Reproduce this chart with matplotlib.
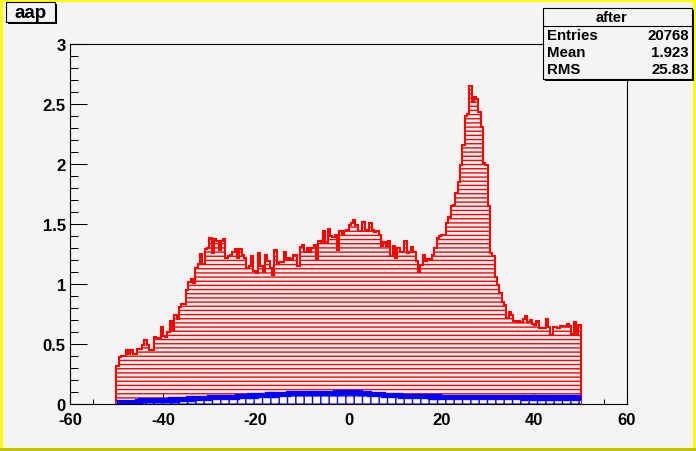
import numpy as np
import matplotlib
matplotlib.use('Agg')
import matplotlib.pyplot as plt
from matplotlib.patches import Rectangle

# histogram binning: 200 bins between -50 and 50
x_min = -50
x_max = 50
n_bins = 200

# red histogram ("after"), bin contents
after_counts = [
    0.32, 0.39, 0.40, 0.40, 0.45, 0.42, 0.45, 0.42, 0.42, 0.46,
    0.46, 0.49, 0.53, 0.49, 0.45, 0.45, 0.56, 0.55, 0.55, 0.64,
    0.57, 0.56, 0.60, 0.69, 0.62, 0.74, 0.71, 0.81, 0.83, 0.83,
    0.95, 1.02, 1.04, 1.01, 1.13, 1.17, 1.25, 1.17, 1.29, 1.30,
    1.38, 1.26, 1.375, 1.36, 1.28, 1.36, 1.375, 1.22, 1.23, 1.24,
    1.27, 1.29, 1.22, 1.29, 1.24, 1.22, 1.13, 1.15, 1.23, 1.11,
    1.09, 1.26, 1.15, 1.10, 1.24, 1.19, 1.13, 1.075, 1.28, 1.17,
    1.18, 1.18, 1.27, 1.20, 1.22, 1.21, 1.24, 1.24, 1.15, 1.31,
    1.325, 1.27, 1.30, 1.27, 1.30, 1.325, 1.21, 1.36, 1.35, 1.44,
    1.35, 1.46, 1.40, 1.39, 1.41, 1.28, 1.44, 1.41, 1.44, 1.45,
    1.49, 1.51, 1.53, 1.49, 1.44, 1.44, 1.52, 1.44, 1.45, 1.51,
    1.45, 1.43, 1.44, 1.41, 1.32, 1.35, 1.32, 1.36, 1.23, 1.32,
    1.22, 1.30, 1.27, 1.27, 1.36, 1.26, 1.265, 1.31, 1.265, 1.19,
    1.10, 1.16, 1.24, 1.19, 1.21, 1.20, 1.24, 1.30, 1.38, 1.40,
    1.41, 1.41, 1.51, 1.56, 1.65, 1.66, 1.76, 1.85, 1.99, 2.16,
    2.40, 2.42, 2.65, 2.52, 2.56, 2.54, 2.43, 2.31, 2.01, 1.99,
    1.65, 1.26, 1.23, 1.06, 0.99, 0.925, 0.85, 0.825, 0.72, 0.77,
    0.74, 0.69, 0.68, 0.69, 0.68, 0.71, 0.73, 0.68, 0.70, 0.67,
    0.66, 0.69, 0.63, 0.63, 0.63, 0.71, 0.64, 0.575, 0.64, 0.645,
    0.63, 0.65, 0.65, 0.65, 0.67, 0.65, 0.58, 0.68, 0.585, 0.66,
]

# blue histogram, small contents along the bottom
blue_counts = [
    0.02, 0.02, 0.02, 0.02, 0.02, 0.02, 0.02, 0.02, 0.02, 0.025,
    0.03, 0.03, 0.03, 0.03, 0.03, 0.032, 0.03, 0.032, 0.03, 0.035,
    0.035, 0.035, 0.035, 0.038, 0.035, 0.035, 0.04, 0.038, 0.04, 0.04,
    0.045, 0.048, 0.045, 0.048, 0.05, 0.048, 0.05, 0.048, 0.05, 0.05,
    0.055, 0.055, 0.058, 0.055, 0.058, 0.06, 0.058, 0.06, 0.058, 0.06,
    0.06, 0.062, 0.065, 0.068, 0.07, 0.068, 0.07, 0.072, 0.07, 0.07,
    0.072, 0.075, 0.078, 0.075, 0.078, 0.08, 0.078, 0.08, 0.078, 0.08,
    0.08, 0.082, 0.08, 0.085, 0.088, 0.09, 0.088, 0.09, 0.09, 0.088,
    0.09, 0.092, 0.09, 0.09, 0.092, 0.09, 0.092, 0.095, 0.092, 0.095,
    0.095, 0.092, 0.095, 0.095, 0.098, 0.095, 0.098, 0.10, 0.098, 0.10,
    0.10, 0.102, 0.10, 0.10, 0.098, 0.095, 0.092, 0.09, 0.088, 0.085,
    0.085, 0.082, 0.082, 0.08, 0.08, 0.078, 0.078, 0.075, 0.075, 0.075,
    0.072, 0.072, 0.07, 0.07, 0.068, 0.07, 0.068, 0.068, 0.065, 0.068,
    0.065, 0.065, 0.068, 0.065, 0.065, 0.062, 0.065, 0.062, 0.065, 0.062,
    0.062, 0.062, 0.06, 0.062, 0.06, 0.062, 0.06, 0.06, 0.062, 0.06,
    0.06, 0.058, 0.06, 0.06, 0.058, 0.06, 0.058, 0.058, 0.06, 0.058,
    0.058, 0.058, 0.055, 0.058, 0.055, 0.058, 0.055, 0.055, 0.058, 0.055,
    0.055, 0.055, 0.058, 0.055, 0.055, 0.052, 0.055, 0.055, 0.052, 0.055,
    0.055, 0.052, 0.055, 0.052, 0.052, 0.055, 0.052, 0.055, 0.052, 0.052,
    0.055, 0.052, 0.052, 0.055, 0.052, 0.052, 0.055, 0.052, 0.052, 0.055,
]

title = 'aap'
stats_title = 'after'
stats_names = ['Entries', 'Mean', 'RMS']
stats_values = ['20768', '1.923', '25.83']

x_ticks = [-60, -40, -20, 0, 20, 40, 60]
y_ticks = [0, 0.5, 1, 1.5, 2, 2.5, 3]

W, H = 696, 452
bg = '#f4f4f4'
font = 'Liberation Sans'

plt.rcParams['hatch.linewidth'] = 1.0
plt.rcParams['hatch.color'] = 'red'

fig = plt.figure(figsize=(W / 100, H / 100), dpi=100, facecolor=bg)
ax = fig.add_axes([70 / W, 1 - 405 / H, 557 / W, 360 / H], facecolor=bg)

edges = np.linspace(x_min, x_max, n_bins + 1)

# red hatched histogram
ax.stairs(after_counts, edges, fill=True, facecolor='none', edgecolor='red',
          hatch='----', linewidth=0, zorder=2)
ax.stairs(after_counts, edges, baseline=0, color='red', linewidth=1.5, zorder=3)

# blue histogram
ax.stairs(blue_counts, edges, fill=True, facecolor='white', edgecolor='blue',
          hatch='++', linewidth=0, zorder=4)
ax.stairs(blue_counts, edges, baseline=None, color='blue', linewidth=3.8, zorder=5)

ax.set_xlim(-60, 60)
ax.set_ylim(0, 3)
ax.set_xticks(x_ticks)
ax.set_yticks(y_ticks)
ax.set_xticks(np.arange(-60, 61, 5), minor=True)
ax.set_yticks(np.arange(0, 3.01, 0.1), minor=True)
ax.set_xticklabels([str(t) for t in x_ticks])
ax.set_yticklabels(['0', '0.5', '1', '1.5', '2', '2.5', '3'])

ax.tick_params(axis='x', which='major', direction='in', length=7.8, width=0.75,
               pad=5.5, labelsize=12)
ax.tick_params(axis='x', which='minor', direction='in', length=3.9, width=0.75)
ax.tick_params(axis='y', which='major', direction='in', length=12, width=0.75,
               pad=3, labelsize=12)
ax.tick_params(axis='y', which='minor', direction='in', length=6, width=0.75)
for lab in ax.get_xticklabels() + ax.get_yticklabels():
    lab.set_fontfamily(font)
    lab.set_fontweight('bold')
for sp in ax.spines.values():
    sp.set_linewidth(0.8)
    sp.set_zorder(6)

# overlay in pixel coordinates for canvas border, title and stats boxes
ov = fig.add_axes([0, 0, 1, 1], facecolor='none', zorder=10)
ov.set_xlim(0, W)
ov.set_ylim(H, 0)
ov.axis('off')

# canvas border
ov.add_patch(Rectangle((0, 0), 3, H, color='#ffff00', lw=0))
ov.add_patch(Rectangle((0, 0), W, 3, color='#ffff00', lw=0))
ov.add_patch(Rectangle((W - 3, 0), 3, H, color='#ffff00', lw=0))
ov.add_patch(Rectangle((0, H - 3), W, 3, color='#c4c400', lw=0))

# title box
ov.add_patch(Rectangle((8, 5), 49, 20, color='black', lw=0))
ov.add_patch(Rectangle((6, 3), 49, 20, facecolor=bg, edgecolor='black', lw=0.8))
ov.text(30.5, 13.5, title, ha='center', va='center', fontsize=13.5,
        fontweight='bold', family=font)

# stats box
ov.add_patch(Rectangle((545, 11), 149, 71, color='black', lw=0))
ov.add_patch(Rectangle((543, 9), 149, 71, facecolor=bg, edgecolor='black', lw=0.8))
ov.plot([543, 692], [26.5, 26.5], color='black', lw=0.8)
ov.text(612, 18, stats_title, ha='center', va='center', fontsize=10.5,
        fontweight='bold', family=font)
for i, (name, val) in enumerate(zip(stats_names, stats_values)):
    y = 35.5 + 17.3 * i
    ov.text(547, y, name, ha='left', va='center', fontsize=10.8,
            fontweight='bold', family=font)
    ov.text(689, y, val, ha='right', va='center', fontsize=10.8,
            fontweight='bold', family=font)

fig.savefig('out.png', dpi=100, facecolor=bg)
